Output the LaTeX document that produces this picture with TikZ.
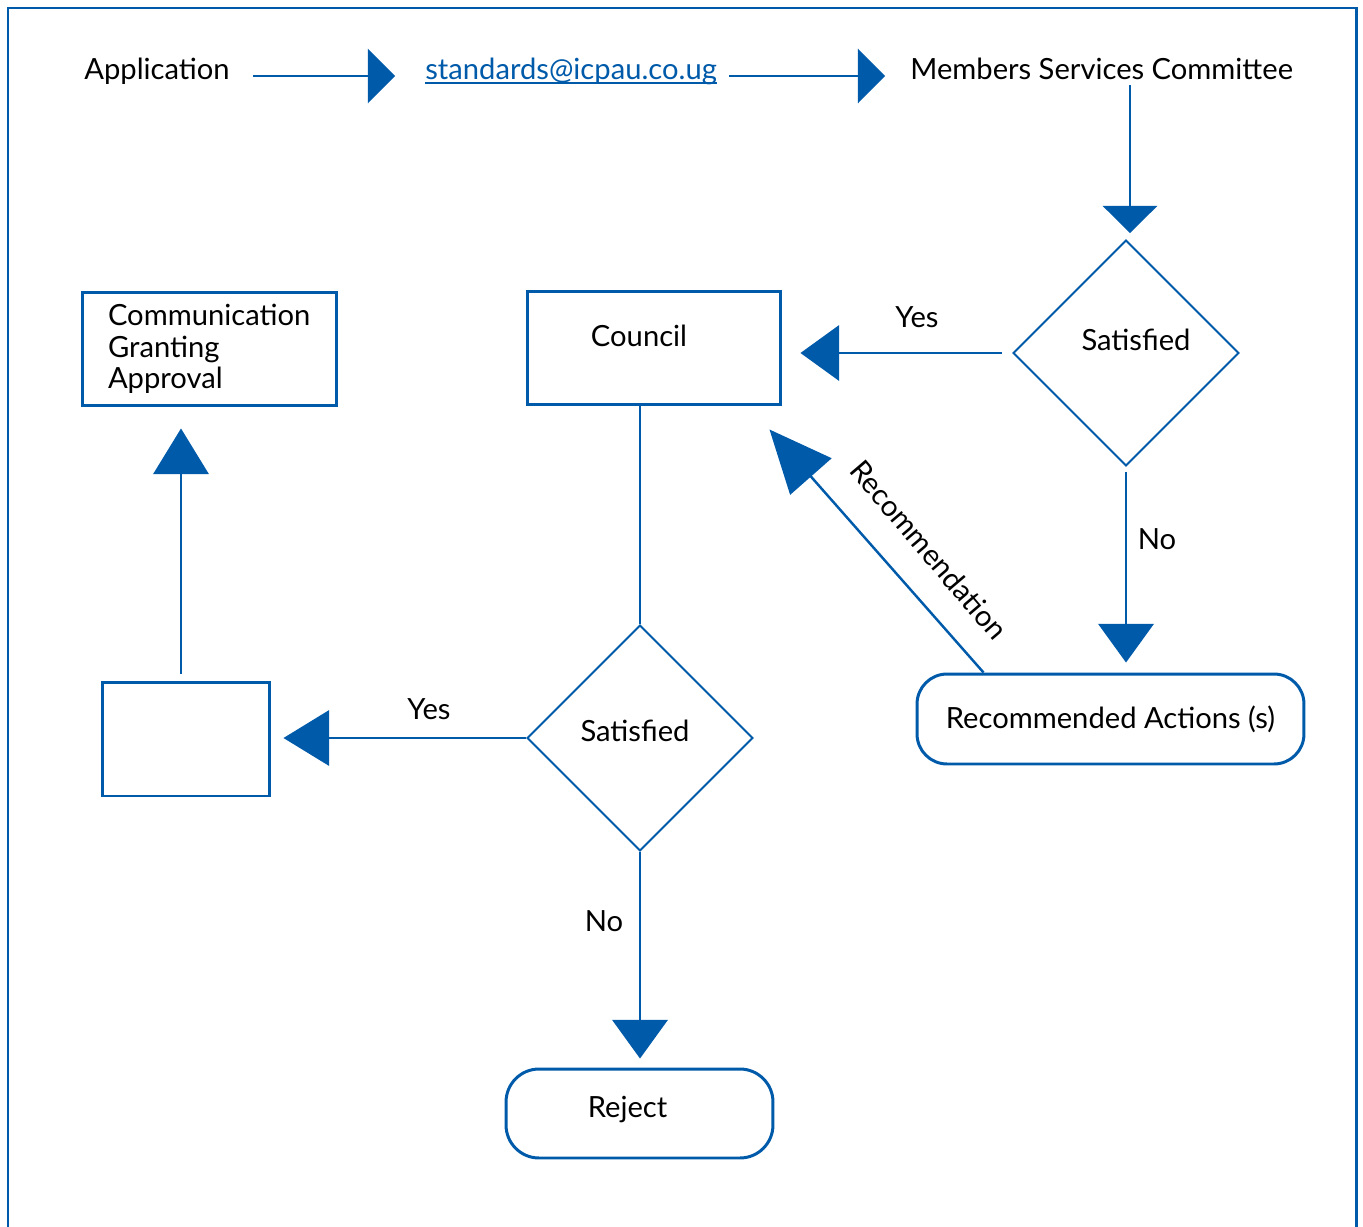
\documentclass[tikz,border=0pt]{standalone}
\usepackage{fontspec}
\setmainfont{Lato}
\usetikzlibrary{arrows.meta,shapes.geometric,calc}
\definecolor{fblue}{HTML}{005AAA}
\begin{document}
\begin{tikzpicture}[x=0.02cm,y=-0.02cm,
  font=\fontsize{16.6}{18.1}\selectfont,
  conn/.style={draw=fblue, line width=1.4pt},
  arrS/.style={conn, -{Triangle[length=15.5pt,width=31pt]}},
  arrM/.style={conn, -{Triangle[length=22pt,width=31.5pt]}},
  arrN/.style={conn, -{Triangle[length=26pt,width=31.5pt]}},
  arrL/.style={conn, -{Triangle[length=35.7pt,width=31.2pt]}},
  box/.style={draw=fblue, line width=1.7pt, rectangle, inner sep=0pt},
  dia/.style={draw=fblue, line width=1.1pt, diamond, inner sep=0pt, minimum width=4.52cm, minimum height=4.52cm},
  txt/.style={inner sep=0pt, text height=0.7em, text depth=0.3em},
  lbl/.style={inner sep=0pt}
]
\useasboundingbox (0,0) rectangle (1363,1227);
% outer frame
\draw[fblue, line width=1.7pt] (8,1227) -- (8,8) -- (1356,8) -- (1356,1227);

% top row
\node[txt, anchor=west] (app) at (84,76) {Application};
\node[txt, anchor=west, text=fblue] (email) at (425,76) {standards@icpau.co.ug};
\draw[fblue, line width=1.1pt] ([yshift=-2pt]email.base west) -- ([yshift=-2pt]email.base east);
\node[txt, anchor=west] (msc) at (910,76) {Members Services Committee};

% shapes
\node[dia, label={[shift={(10,-13)}]center:Satisfied}] (d1) at (1126,353) {};
\node[box, minimum width=5.08cm, minimum height=2.28cm, label={[shift={(-15,-12)}]center:Council}] (council) at (654,348) {};
\node[box, minimum width=5.1cm, minimum height=2.28cm, text width=4.06cm, inner xsep=0.52cm, align=left] (comm) at (209.5,349) {Communication\\Granting\\Approval};
\node[box, minimum width=3.36cm, minimum height=2.28cm] (empty) at (186,739) {};
\node[box, rounded corners=0.6cm, minimum width=7.74cm, minimum height=1.8cm] (rec) at (1110.5,719) {Recommended Actions (s)};
\node[dia, label={[shift={(-5,-7)}]center:Satisfied}] (d2) at (640,738) {};
\node[box, rounded corners=0.66cm, minimum width=5.34cm, minimum height=1.78cm, label={[shift={(-12,-4)}]center:Reject}] (reject) at (639.5,1113.5) {};

% connectors
\draw[arrS, shorten <=0.46cm, shorten >=0.6cm] (app.east) -- (email.west);
\draw[arrS, shorten <=0.24cm, shorten >=0.5cm] (email.east) -- (msc.west);
\coordinate (mscdown) at ([xshift=0.08cm]msc.south -| d1.north);
\draw[arrS, shorten >=0.12cm] (mscdown) -- (mscdown |- d1.north);

\draw[arrM, shorten <=0.2cm, shorten >=0.36cm] (d1.west) -- (d1.west -| council.east);
\node[lbl] (yes1) at (917,317) {Yes};

\draw[arrM, shorten <=0.1cm, shorten >=0.2cm] (d1.south) -- (d1.south |- rec.north);
\node[lbl] (no1) at (1157,539) {No};

\coordinate (rs) at ([xshift=1.36cm]rec.north west);
\coordinate (rt) at ([xshift=-0.26cm,yshift=-0.46cm]council.south east);
\draw[arrL] (rs) -- (rt);
\node[lbl, rotate=-49.5] (recl) at (929,550) {Recommendation};

\draw[conn] (d2.north |- council.south) -- (d2.north);

\draw[arrN, shorten >=0.24cm] (d2.west) -- (d2.west -| empty.east);
\node[lbl] (yes2) at (429,709) {Yes};

\coordinate (upbase) at ([xshift=-0.1cm]empty.north);
\draw[arrN, shorten <=0.14cm, shorten >=0.42cm] (upbase) -- (upbase |- comm.south);

\draw[arrM, shorten >=0.18cm] (d2.south) -- (d2.south |- reject.north);
\node[lbl] (no2) at (604,921) {No};
\end{tikzpicture}
\end{document}
